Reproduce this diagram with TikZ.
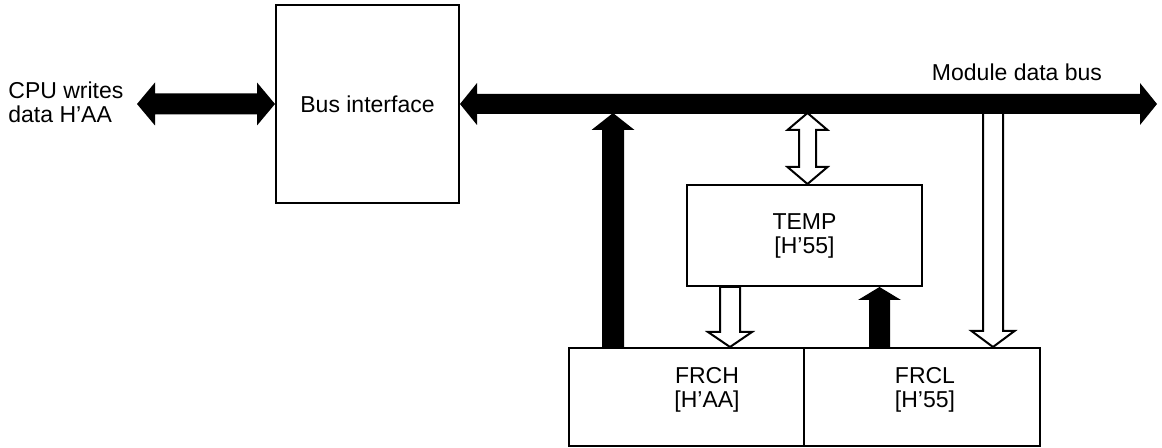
\documentclass[tikz,border=0pt]{standalone}
\usepackage{fontspec}
\setmainfont{Liberation Sans}
\usetikzlibrary{calc}

\begin{document}
\begin{tikzpicture}[
   x=.5pt,y=-.5pt,
   every node/.style={font=\fontsize{11.5}{12}\selectfont,inner sep=0pt},
   box/.style={draw,line width=1pt},
   blackfill/.style={fill=black},
   hollowfill/.style={draw,fill=white,line width=1pt,line join=miter},
   fatarrow/.style n args={3}{to path={
     let \p1=($(\tikztotarget)!#3!(\tikztostart)$) in
     -- ($(\tikztostart)!#1!90:(\tikztotarget)$)
     -- ($(\p1)!#1!-90:(\tikztostart)$)
     -- ($(\p1)!#2!-90:(\tikztostart)$)
     -- (\tikztotarget)
     -- ($(\p1)!#2!90:(\tikztostart)$)
     -- ($(\p1)!#1!90:(\tikztostart)$)
     -- ($(\tikztostart)!#1!-90:(\tikztotarget)$)
     -- cycle}},
   fatboth/.style n args={3}{to path={
     let \p1=($(\tikztostart)!#3!(\tikztotarget)$),
         \p2=($(\tikztotarget)!#3!(\tikztostart)$) in
     -- ($(\p1)!#2!90:(\tikztotarget)$)
     -- ($(\p1)!#1!90:(\tikztotarget)$)
     -- ($(\p2)!#1!-90:(\tikztostart)$)
     -- ($(\p2)!#2!-90:(\tikztostart)$)
     -- (\tikztotarget)
     -- ($(\p2)!#2!90:(\tikztostart)$)
     -- ($(\p2)!#1!90:(\tikztostart)$)
     -- ($(\p1)!#1!-90:(\tikztotarget)$)
     -- ($(\p1)!#2!-90:(\tikztotarget)$)
     -- cycle}}
 ]
  \useasboundingbox (0,0) rectangle (1162,448);

  % Boxes and their contents.
  \node[box,minimum width=91.5pt,minimum height=99pt] (bif) at (367.5,104) {Bus interface};
  \node[box,align=center,minimum width=117.5pt,minimum height=50.5pt] (temp) at (804.5,235.5) {TEMP\\{}[H'55]};
  \node[box,minimum width=117.5pt,minimum height=49pt] (frch) at (686.5,397) {};
  \node[box,minimum width=118pt,minimum height=49pt] (frcl) at (922,397) {};
  \node[align=center] (frchtext) at (707,390) {FRCH\\{}[H'AA]};
  \node[align=center] (frcltext) at (925,390) {FRCL\\{}[H'55]};
  \node[align=left,anchor=west] (cpu) at (8,102) {CPU writes\\data H'AA};
  \node (mdb) at (1017,72) {Module data bus};

  % End points on the bus and the boxes.
  \coordinate (cpuend) at (137,104);
  \coordinate (busend) at (1157,104);
  \coordinate (busbelow) at ($(bif.east)+(0,9)$);
  \coordinate (hup) at ($(frch.north west)+(45,0)$);
  \coordinate (tup) at ($(temp.north)+(3,0)$);
  \coordinate (tdown) at ($(temp.south west)+(44,0)$);
  \coordinate (lup) at ($(frcl.north west)+(76.5,0)$);
  \coordinate (ldown) at ($(frcl.north west)+(190,0)$);

  % Transfers between the registers and the bus.
  \path[blackfill] (hup) to[fatarrow={5.5pt}{10.75pt}{8.5pt}] (hup |- busbelow);
  \path[hollowfill] (tup) to[fatboth={4.25pt}{10pt}{8.5pt}] (tup |- busbelow);
  \path[hollowfill] (tdown) to[fatarrow={5pt}{11pt}{7.5pt}] (tdown |- frch.north);
  \path[blackfill] (lup) to[fatarrow={5.25pt}{10.75pt}{6.5pt}] (lup |- temp.south);
  \path[hollowfill] (ldown |- busbelow) to[fatarrow={5pt}{10.75pt}{8pt}] (ldown);

  % CPU side and module data bus.
  \path[blackfill] (cpuend) to[fatboth={5.25pt}{10.75pt}{9pt}] (bif.west);
  \path[blackfill] (bif.east) to[fatboth={5pt}{10.5pt}{8.5pt}] (busend);
\end{tikzpicture}
\end{document}
